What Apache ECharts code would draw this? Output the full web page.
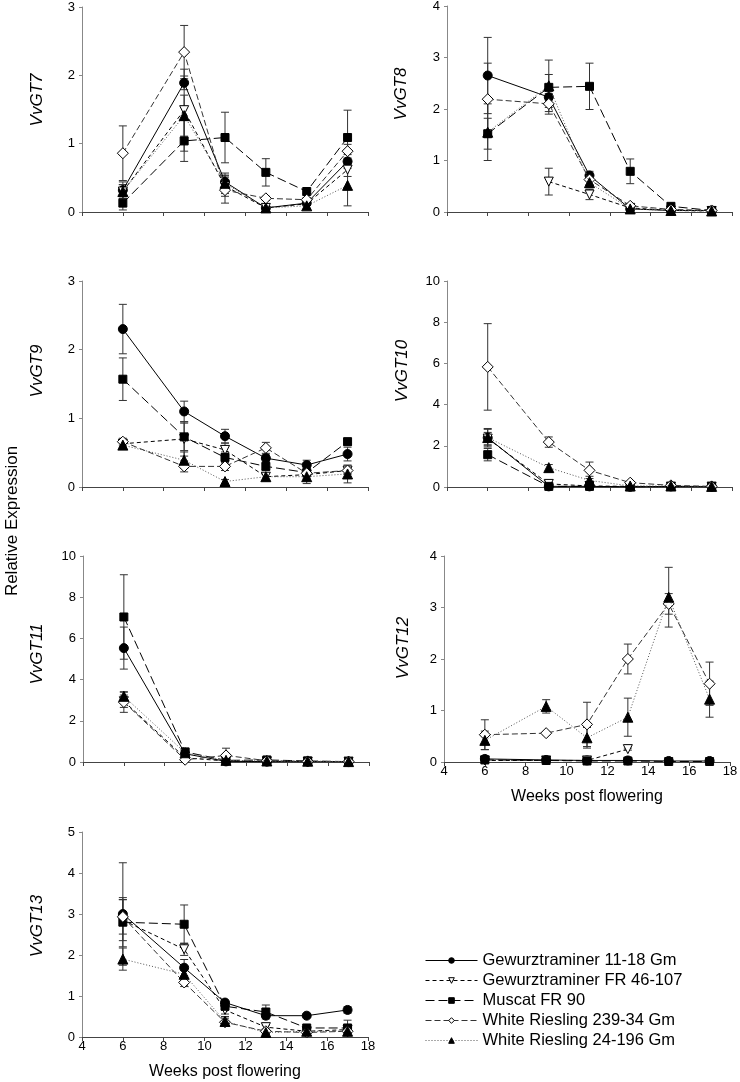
<!DOCTYPE html>
<html>
<head>
<meta charset="utf-8">
<script src="https://cdn.jsdelivr.net/npm/echarts@6/dist/echarts.min.js"></script>
<style>
html,body{margin:0;padding:0;background:#fff;}
#chart{width:740px;height:1082px;}
</style>
</head>
<body>
<div id="chart"></div>
<script>
// ---- Data ----
const weeks = [6, 9, 11, 13, 15, 17];
const seriesNames = ['Gewurztraminer 11-18 Gm', 'Gewurztraminer FR 46-107', 'Muscat FR 90', 'White Riesling 239-34 Gm', 'White Riesling 24-196 Gm'];
const genes = ['VvGT7', 'VvGT8', 'VvGT9', 'VvGT10', 'VvGT11', 'VvGT12', 'VvGT13'];
const yMax = [3, 4, 3, 10, 10, 4, 5];
const yStep = [1, 1, 1, 2, 2, 1, 1];
const xTicks = [4, 18, 2];

// order of series rows: GW 11-18, GW FR 46-107, Muscat FR 90, WR 239-34, WR 24-196
const gt7Mean = [
  [0.32, 1.89, 0.44, 0.06, 0.13, 0.74],
  [0.30, 1.49, 0.38, 0.06, 0.12, 0.62],
  [0.13, 1.04, 1.09, 0.58, 0.30, 1.09],
  [0.86, 2.34, 0.32, 0.20, 0.18, 0.89],
  [0.30, 1.41, 0.42, 0.06, 0.09, 0.39]
];
const gt7Err = [
  [0.12, 0.10, 0.10, 0.03, 0.03, 0.10],
  [0.10, 0.60, 0.15, 0.02, 0.02, 0.10],
  [0.10, 0.30, 0.37, 0.20, 0.03, 0.40],
  [0.40, 0.39, 0.19, 0.03, 0.03, 0.10],
  [0.10, 0.30, 0.15, 0.02, 0.05, 0.30]
];
const gt8Mean = [
  [2.65, 2.23, 0.71, 0.06, 0.03, 0.03],
  [null, 0.59, 0.34, 0.08, 0.03, 0.02],
  [1.52, 2.42, 2.44, 0.79, 0.11, 0.03],
  [2.19, 2.10, 0.63, 0.12, 0.05, 0.03],
  [1.55, 2.45, 0.57, 0.06, 0.03, 0.02]
];
const gt8Err = [
  [0.74, 0.20, 0.08, 0.02, 0.02, 0.02],
  [null, 0.26, 0.10, 0.02, 0.01, 0.01],
  [0.30, 0.25, 0.45, 0.24, 0.03, 0.02],
  [0.70, 0.20, 0.10, 0.03, 0.02, 0.02],
  [0.55, 0.50, 0.10, 0.02, 0.01, 0.01]
];
const gt9Mean = [
  [2.30, 1.10, 0.74, 0.42, 0.32, 0.48],
  [0.63, 0.70, 0.54, 0.15, 0.18, 0.24],
  [1.57, 0.73, 0.43, 0.30, 0.21, 0.66],
  [0.66, 0.30, 0.30, 0.57, 0.20, 0.24],
  [0.61, 0.39, 0.08, 0.15, 0.15, 0.19]
];
const gt9Err = [
  [0.36, 0.15, 0.10, 0.05, 0.07, 0.10],
  [0.05, 0.25, 0.10, 0.05, 0.05, 0.05],
  [0.31, 0.20, 0.08, 0.05, 0.04, 0.05],
  [0.05, 0.08, 0.06, 0.08, 0.04, 0.05],
  [0.04, 0.12, 0.03, 0.06, 0.10, 0.13]
];
const gt10Mean = [
  [2.39, 0.03, 0.03, 0.01, 0.03, 0.02],
  [2.35, 0.15, 0.05, 0.03, 0.02, 0.02],
  [1.57, 0.03, 0.03, 0.01, 0.02, 0.02],
  [5.83, 2.18, 0.81, 0.21, 0.08, 0.03],
  [2.40, 0.94, 0.32, 0.05, 0.05, 0.03]
];
const gt10Err = [
  [0.45, 0.02, 0.02, 0.01, 0.01, 0.01],
  [0.30, 0.15, 0.03, 0.01, 0.01, 0.01],
  [0.30, 0.02, 0.02, 0.01, 0.01, 0.01],
  [2.10, 0.25, 0.40, 0.05, 0.05, 0.02],
  [0.40, 0.15, 0.20, 0.02, 0.03, 0.01]
];
const gt11Mean = [
  [5.53, 0.40, 0.03, 0.02, 0.02, 0.02],
  [2.95, 0.20, 0.05, 0.03, 0.02, 0.02],
  [7.04, 0.49, 0.08, 0.10, 0.05, 0.02],
  [2.91, 0.11, 0.32, 0.06, 0.03, 0.02],
  [3.19, 0.45, 0.08, 0.05, 0.04, 0.02]
];
const gt11Err = [
  [1.02, 0.10, 0.02, 0.01, 0.01, 0.01],
  [0.30, 0.10, 0.02, 0.01, 0.01, 0.01],
  [2.05, 0.10, 0.03, 0.05, 0.02, 0.01],
  [0.50, 0.05, 0.35, 0.02, 0.01, 0.01],
  [0.20, 0.10, 0.03, 0.02, 0.02, 0.01]
];
const gt12Mean = [
  [0.06, 0.04, 0.03, 0.03, 0.02, 0.02],
  [0.03, 0.03, 0.03, 0.25, null, null],
  [0.04, 0.03, 0.02, 0.02, 0.01, 0.01],
  [0.53, 0.56, 0.73, 2.00, 3.07, 1.52],
  [0.42, 1.08, 0.47, 0.87, 3.20, 1.22]
];
const gt12Err = [
  [0.02, 0.01, 0.01, 0.01, 0.01, 0.01],
  [0.01, 0.01, 0.01, 0.02, null, null],
  [0.01, 0.01, 0.01, 0.01, 0.01, 0.01],
  [0.29, 0.03, 0.43, 0.29, 0.20, 0.42],
  [0.18, 0.13, 0.20, 0.37, 0.58, 0.35]
];
const gt13Mean = [
  [3.00, 1.69, 0.84, 0.52, 0.52, 0.66],
  [2.85, 2.14, 0.66, 0.24, 0.14, 0.18],
  [2.80, 2.75, 0.75, 0.61, 0.22, 0.22],
  [2.93, 1.33, 0.36, 0.14, 0.11, 0.14],
  [1.90, 1.53, 0.38, 0.11, 0.14, 0.14]
];
const gt13Err = [
  [1.25, 0.20, 0.06, 0.05, 0.04, 0.08],
  [0.50, 0.15, 0.10, 0.05, 0.03, 0.05],
  [0.60, 0.47, 0.10, 0.17, 0.04, 0.19],
  [0.42, 0.10, 0.10, 0.05, 0.03, 0.04],
  [0.27, 0.10, 0.12, 0.05, 0.03, 0.05]
];

const allMeans = [gt7Mean, gt8Mean, gt9Mean, gt10Mean, gt11Mean, gt12Mean, gt13Mean];
const allErrs = [gt7Err, gt8Err, gt9Err, gt10Err, gt11Err, gt12Err, gt13Err];

// ---- Styles / layout ----
const FONT = 'Liberation Sans, Arial, sans-serif';
const panels = [
  {left: 82, top: 7, width: 286, height: 205, nameX: 37, nameY: 100, xLabels: false},
  {left: 447, top: 6, width: 285, height: 206, nameX: 401, nameY: 94, xLabels: false},
  {left: 82, top: 281, width: 286, height: 206, nameX: 37, nameY: 371, xLabels: false},
  {left: 447, top: 281, width: 285, height: 206, nameX: 402, nameY: 371, xLabels: false},
  {left: 83, top: 556, width: 286, height: 206, nameX: 37, nameY: 654, xLabels: false},
  {left: 444, top: 556, width: 286, height: 206, nameX: 403, nameY: 648, xLabels: true},
  {left: 82, top: 832, width: 286, height: 205, nameX: 37, nameY: 926, xLabels: true}
];
const downTri = 'path://M0,0 L10,0 L5,9 Z';
const styles = [
  {symbol: 'circle', size: 9, fill: '#000', line: 'solid', color: '#000'},
  {symbol: downTri, size: 9, fill: '#fff', line: [4, 3], color: '#000'},
  {symbol: 'rect', size: 8, fill: '#000', line: [9, 4], color: '#000'},
  {symbol: 'diamond', size: 11, fill: '#fff', line: [6, 3], color: '#333'},
  {symbol: 'triangle', size: 10, fill: '#000', line: [1, 2], color: '#555'}
];

const grid = [], xAxis = [], yAxis = [], series = [];
const graphic = [{
  type: 'text', x: 12, y: 521, rotation: Math.PI / 2,
  style: {text: 'Relative Expression', fill: '#000', fontSize: 17, fontFamily: FONT, align: 'center', verticalAlign: 'middle'}
}];
panels.forEach((p, i) => {
  grid.push({left: p.left, top: p.top, width: p.width, height: p.height, outerBoundsMode: 'none', containLabel: false});
  xAxis.push({
    type: 'value', gridIndex: i, min: xTicks[0], max: xTicks[1], interval: xTicks[2],
    axisLine: {lineStyle: {color: '#444', width: 1}},
    axisTick: {show: true, inside: false, length: 4, lineStyle: {color: '#444'}},
    axisLabel: {show: p.xLabels, color: '#000', fontSize: 13, fontFamily: FONT, margin: 3},
    splitLine: {show: false},
    name: p.xLabels ? 'Weeks post flowering' : '',
    nameLocation: 'middle', nameGap: 27,
    nameTextStyle: {color: '#000', fontSize: 16, fontFamily: FONT}
  });
  yAxis.push({
    type: 'value', gridIndex: i, min: 0, max: yMax[i], interval: yStep[i],
    axisLine: {show: true, lineStyle: {color: '#888', width: 1}},
    axisTick: {show: true, inside: false, length: 3, lineStyle: {color: '#888'}},
    axisLabel: {color: '#000', fontSize: 13, fontFamily: FONT, margin: 7},
    splitLine: {show: false}
  });
  graphic.push({
    type: 'text', x: p.nameX, y: p.nameY, rotation: Math.PI / 2,
    style: {text: genes[i], fill: '#000', fontSize: 17, fontStyle: 'italic', fontFamily: FONT, align: 'center', verticalAlign: 'middle'}
  });
  // error bars
  const errData = [];
  allMeans[i].forEach((row, s) => {
    row.forEach((v, k) => {
      const e = allErrs[i][s][k];
      if (v !== null && e !== null) errData.push([weeks[k], Math.max(0, v - e), v + e]);
    });
  });
  series.push({
    type: 'custom', name: 'err' + i, xAxisIndex: i, yAxisIndex: i, z: 1, silent: true,
    encode: {x: 0, y: [1, 2]},
    data: errData,
    renderItem: function (params, api) {
      const x = api.value(0), lo = api.value(1), hi = api.value(2);
      const a = api.coord([x, hi]), b = api.coord([x, lo]);
      const w = 4;
      const st = {stroke: '#333', lineWidth: 1};
      return {type: 'group', children: [
        {type: 'line', shape: {x1: a[0], y1: a[1], x2: b[0], y2: b[1]}, style: st},
        {type: 'line', shape: {x1: a[0] - w, y1: a[1], x2: a[0] + w, y2: a[1]}, style: st},
        {type: 'line', shape: {x1: b[0] - w, y1: b[1], x2: b[0] + w, y2: b[1]}, style: st}
      ]};
    }
  });
  allMeans[i].forEach((row, s) => {
    const st = styles[s];
    series.push({
      type: 'line', name: seriesNames[s], xAxisIndex: i, yAxisIndex: i, z: 3 + s,
      data: row.map((v, k) => [weeks[k], v]),
      connectNulls: false,
      symbol: st.symbol, symbolSize: st.size, showSymbol: true,
      itemStyle: {color: st.fill, borderColor: '#000', borderWidth: 1},
      lineStyle: {color: st.color, width: 1, type: st.line},
      emphasis: {disabled: true},
      animation: false
    });
  });
});

const option = {
  animation: false,
  backgroundColor: '#fff',
  textStyle: {fontFamily: FONT},
  grid, xAxis, yAxis, series, graphic,
  legend: {
    data: seriesNames,
    orient: 'vertical', left: 420, top: 947,
    itemWidth: 52, itemHeight: 7, itemGap: 3,
    lineStyle: {width: 1},
    itemStyle: {borderWidth: 1},
    textStyle: {color: '#000', fontSize: 16.5, fontFamily: FONT, lineHeight: 17},
    selectedMode: false
  }
};

const chart = echarts.init(document.getElementById('chart'), null, {renderer: 'canvas'});
chart.setOption(option);
</script>
</body>
</html>
